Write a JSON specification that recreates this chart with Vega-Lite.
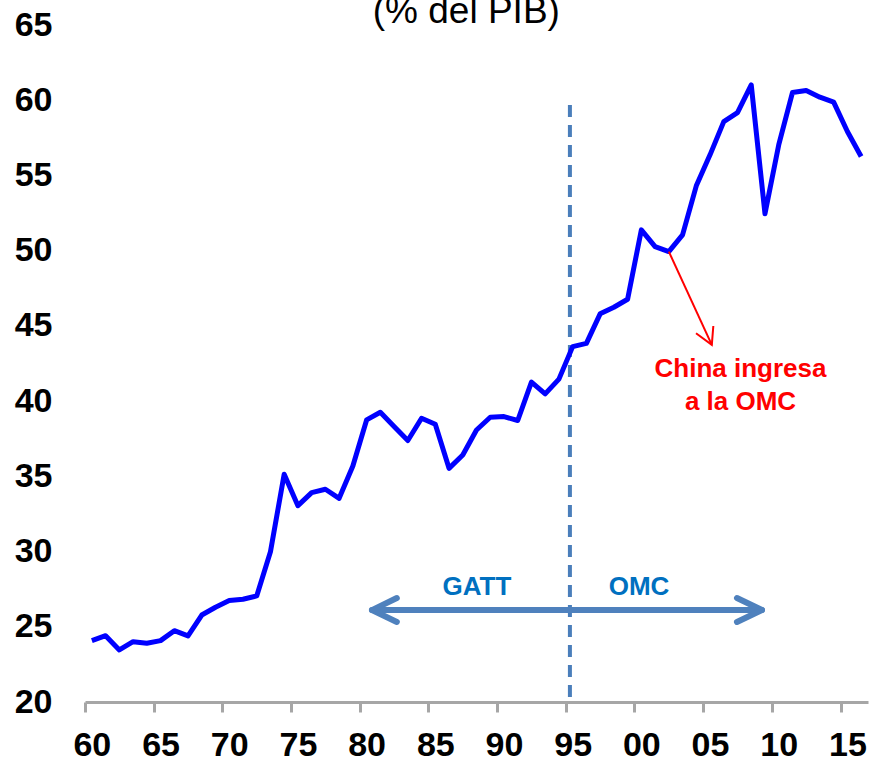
{
  "$schema": "https://vega.github.io/schema/vega-lite/v6.json",
  "autosize": {"type": "none"},
  "width": 783,
  "height": 677,
  "padding": {"left": 85, "top": 25, "right": 1, "bottom": 61},
  "background": "white",
  "config": {"view": {"stroke": null}, "font": "Liberation Sans"},
  "datasets": {
    "serie": [
      {"year": 1960, "v": 24.08}, {"year": 1961, "v": 24.41}, {"year": 1962, "v": 23.46}, {"year": 1963, "v": 24.01},
      {"year": 1964, "v": 23.90}, {"year": 1965, "v": 24.08}, {"year": 1966, "v": 24.74}, {"year": 1967, "v": 24.39},
      {"year": 1968, "v": 25.78}, {"year": 1969, "v": 26.30}, {"year": 1970, "v": 26.74}, {"year": 1971, "v": 26.83},
      {"year": 1972, "v": 27.05}, {"year": 1973, "v": 29.99}, {"year": 1974, "v": 35.14}, {"year": 1975, "v": 33.05},
      {"year": 1976, "v": 33.92}, {"year": 1977, "v": 34.14}, {"year": 1978, "v": 33.54}, {"year": 1979, "v": 35.69},
      {"year": 1980, "v": 38.75}, {"year": 1981, "v": 39.26}, {"year": 1982, "v": 38.31}, {"year": 1983, "v": 37.38},
      {"year": 1984, "v": 38.86}, {"year": 1985, "v": 38.46}, {"year": 1986, "v": 35.53}, {"year": 1987, "v": 36.42},
      {"year": 1988, "v": 38.08}, {"year": 1989, "v": 38.93}, {"year": 1990, "v": 38.97}, {"year": 1991, "v": 38.71},
      {"year": 1992, "v": 41.26}, {"year": 1993, "v": 40.48}, {"year": 1994, "v": 41.46}, {"year": 1995, "v": 43.62},
      {"year": 1996, "v": 43.84}, {"year": 1997, "v": 45.80}, {"year": 1998, "v": 46.24}, {"year": 1999, "v": 46.77},
      {"year": 2000, "v": 51.38}, {"year": 2001, "v": 50.27}, {"year": 2002, "v": 49.94}, {"year": 2003, "v": 51.05},
      {"year": 2004, "v": 54.31}, {"year": 2005, "v": 56.37}, {"year": 2006, "v": 58.58}, {"year": 2007, "v": 59.18},
      {"year": 2008, "v": 61.02}, {"year": 2009, "v": 52.45}, {"year": 2010, "v": 57.03}, {"year": 2011, "v": 60.51},
      {"year": 2012, "v": 60.65}, {"year": 2013, "v": 60.20}, {"year": 2014, "v": 59.87}, {"year": 2015, "v": 57.92},
      {"year": 2016, "v": 56.26}
    ],
    "blueArrow": [
      {"id": "shaft", "o": 1, "year": 1980.39, "v": 26.11},
      {"id": "shaft", "o": 2, "year": 2008.78, "v": 26.11},
      {"id": "left", "o": 1, "year": 1982.2, "v": 26.91},
      {"id": "left", "o": 2, "year": 1980.39, "v": 26.11},
      {"id": "left", "o": 3, "year": 1982.2, "v": 25.32},
      {"id": "right", "o": 1, "year": 2006.96, "v": 26.91},
      {"id": "right", "o": 2, "year": 2008.78, "v": 26.11},
      {"id": "right", "o": 3, "year": 2006.96, "v": 25.32}
    ],
    "redArrow": [
      {"id": "shaft", "o": 1, "year": 2002.0, "v": 49.94},
      {"id": "shaft", "o": 2, "year": 2005.13, "v": 43.74},
      {"id": "head", "o": 1, "year": 2003.98, "v": 44.51},
      {"id": "head", "o": 2, "year": 2005.13, "v": 43.74},
      {"id": "head", "o": 3, "year": 2005.24, "v": 44.99}
    ],
    "labels": [
      {"t": "(% del PIB)", "year": 1987.26, "v": 65.13, "kind": "title"},
      {"t": "China ingresa", "year": 2007.22, "v": 41.6, "kind": "red"},
      {"t": "a la OMC", "year": 2007.22, "v": 39.41, "kind": "red"},
      {"t": "GATT", "year": 1988.03, "v": 27.11, "kind": "blue"},
      {"t": "OMC", "year": 1999.83, "v": 27.11, "kind": "blue"}
    ],
    "divider": [{"year": 1994.8, "v": 59.68, "v2": 20}]
  },
  "layer": [
    {
      "data": {"name": "divider"},
      "mark": {"type": "rule", "color": "#4A7EBB", "strokeWidth": 4, "strokeDash": [12, 8]},
      "encoding": {
        "x": {"field": "year", "type": "quantitative"},
        "y": {"field": "v", "type": "quantitative"},
        "y2": {"field": "v2"}
      }
    },
    {
      "data": {"name": "serie"},
      "mark": {"type": "line", "color": "#0000FF", "strokeWidth": 5, "strokeJoin": "round"},
      "encoding": {
        "x": {
          "field": "year", "type": "quantitative",
          "scale": {"domain": [1959.5, 2016.5], "nice": false, "zero": false},
          "axis": {
            "title": null, "grid": false,
            "values": [1960, 1965, 1970, 1975, 1980, 1985, 1990, 1995, 2000, 2005, 2010, 2015],
            "tickOffset": -6.87, "labelOffset": 6.87,
            "labelExpr": "slice(toString(datum.value), 2)",
            "domainColor": "#A6A6A6", "domainWidth": 3,
            "tickColor": "#A6A6A6", "tickWidth": 3, "tickSize": 10,
            "labelFontSize": 34, "labelFontWeight": "bold", "labelColor": "#000000",
            "labelPadding": 16, "labelFont": "Liberation Sans"
          }
        },
        "y": {
          "field": "v", "type": "quantitative",
          "scale": {"domain": [20, 65], "nice": false, "zero": false},
          "axis": {
            "title": null, "grid": false, "domain": false, "ticks": false,
            "values": [20, 25, 30, 35, 40, 45, 50, 55, 60, 65],
            "labelFontSize": 34, "labelFontWeight": "bold", "labelColor": "#000000",
            "labelPadding": 33, "labelFont": "Liberation Sans"
          }
        }
      }
    },
    {
      "data": {"name": "blueArrow"},
      "mark": {"type": "line", "color": "#4F81BD", "strokeWidth": 6, "strokeCap": "round", "strokeJoin": "round"},
      "encoding": {
        "x": {"field": "year", "type": "quantitative"},
        "y": {"field": "v", "type": "quantitative"},
        "detail": {"field": "id"},
        "order": {"field": "o"}
      }
    },
    {
      "data": {"name": "redArrow"},
      "mark": {"type": "line", "color": "#FF0000", "strokeWidth": 2},
      "encoding": {
        "x": {"field": "year", "type": "quantitative"},
        "y": {"field": "v", "type": "quantitative"},
        "detail": {"field": "id"},
        "order": {"field": "o"}
      }
    },
    {
      "data": {"name": "labels"},
      "transform": [{"filter": "datum.kind == 'title'"}],
      "mark": {"type": "text", "fontSize": 37, "color": "#000000", "baseline": "alphabetic", "align": "center", "font": "Liberation Sans"},
      "encoding": {
        "x": {"field": "year", "type": "quantitative"},
        "y": {"field": "v", "type": "quantitative"},
        "text": {"field": "t"}
      }
    },
    {
      "data": {"name": "labels"},
      "transform": [{"filter": "datum.kind == 'red'"}],
      "mark": {"type": "text", "fontSize": 26, "fontWeight": "bold", "color": "#FF0000", "baseline": "alphabetic", "align": "center", "font": "Liberation Sans"},
      "encoding": {
        "x": {"field": "year", "type": "quantitative"},
        "y": {"field": "v", "type": "quantitative"},
        "text": {"field": "t"}
      }
    },
    {
      "data": {"name": "labels"},
      "transform": [{"filter": "datum.kind == 'blue'"}],
      "mark": {"type": "text", "fontSize": 26, "fontWeight": "bold", "color": "#0070C0", "baseline": "alphabetic", "align": "center", "font": "Liberation Sans"},
      "encoding": {
        "x": {"field": "year", "type": "quantitative"},
        "y": {"field": "v", "type": "quantitative"},
        "text": {"field": "t"}
      }
    }
  ]
}
